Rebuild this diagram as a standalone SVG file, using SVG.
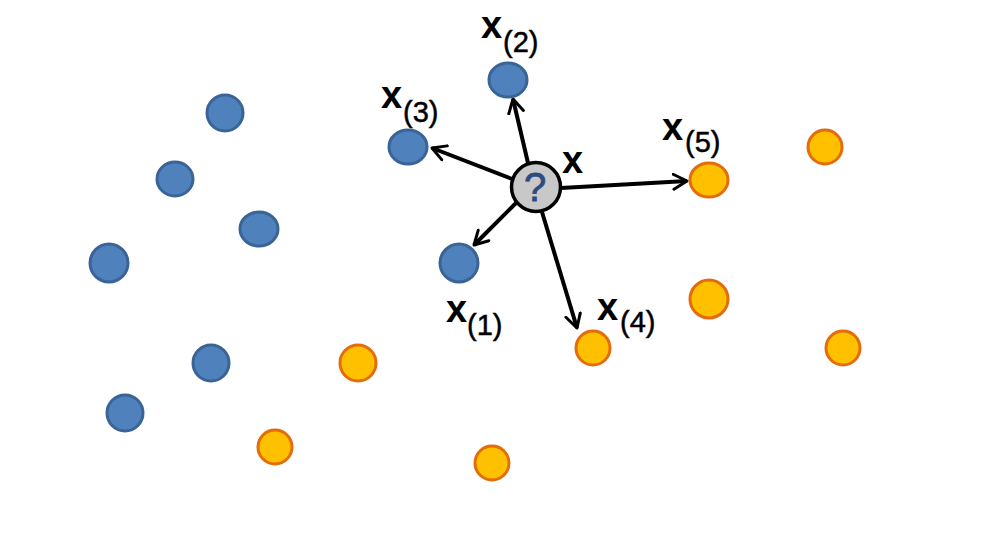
<svg xmlns="http://www.w3.org/2000/svg" width="989" height="547" viewBox="0 0 989 547">
<style>
.b{fill:#4F81BD;stroke:#3A6496;stroke-width:3}
.o{fill:#FFC000;stroke:#E46C0A;stroke-width:3}
.a{stroke:#000;stroke-width:4;fill:none;marker-end:url(#ah)}
.lx{font-family:"Liberation Sans",Arial,sans-serif;font-weight:bold;font-size:38px;fill:#000}
.ls{font-family:"Liberation Sans",Arial,sans-serif;font-size:29px;fill:#000;stroke:#000;stroke-width:0.5}
</style>
<defs>
<marker id="ah" viewBox="0 0 12 12" refX="10" refY="6" markerWidth="4.5" markerHeight="4.5" markerUnits="strokeWidth" orient="auto">
<path d="M1,1 L10,6 L1,11" fill="none" stroke="#000" stroke-width="2" stroke-linecap="round" stroke-linejoin="round"/>
</marker>
</defs>
<rect width="989" height="547" fill="#fff"/>
<g id="blue-points">
<ellipse id="b1" class="b" cx="225" cy="113" rx="18" ry="18"/>
<ellipse id="b2" class="b" cx="175" cy="179" rx="18" ry="17"/>
<ellipse id="b3" class="b" cx="259" cy="229" rx="19" ry="17"/>
<ellipse id="b4" class="b" cx="109" cy="263" rx="19" ry="19"/>
<ellipse id="b5" class="b" cx="211" cy="363" rx="18" ry="18"/>
<ellipse id="b6" class="b" cx="125" cy="413" rx="18" ry="18"/>
</g>
<g id="orange-points">
<circle id="o1" class="o" cx="358" cy="363" r="18"/>
<circle id="o2" class="o" cx="275" cy="447" r="17"/>
<circle id="o3" class="o" cx="492" cy="463" r="17"/>
<circle id="o4" class="o" cx="825" cy="147" r="17"/>
<circle id="o5" class="o" cx="709" cy="299" r="19"/>
<circle id="o6" class="o" cx="843" cy="348" r="17"/>
</g>
<g id="connectors">
<line class="a" x1="528" y1="163" x2="513" y2="99"/>
<line class="a" x1="512" y1="179" x2="432" y2="148"/>
<line class="a" x1="561" y1="188" x2="687" y2="181"/>
<line class="a" x1="516" y1="203" x2="474" y2="245"/>
<line class="a" x1="542" y1="212" x2="577" y2="328"/>
</g>
<g id="n2">
<ellipse class="b" cx="508" cy="80" rx="19" ry="17"/>
<text x="481" y="38" class="lx">x</text><text x="503" y="52" class="ls">(2)</text>
</g>
<g id="n3">
<ellipse class="b" cx="408" cy="147" rx="19" ry="17"/>
<text x="381" y="108" class="lx">x</text><text x="403" y="122" class="ls">(3)</text>
</g>
<g id="n1">
<ellipse class="b" cx="459" cy="263" rx="19" ry="19"/>
<text x="446" y="322" class="lx">x</text><text x="467" y="335" class="ls">(1)</text>
</g>
<g id="n4">
<circle class="o" cx="593" cy="348" r="17"/>
<text x="597" y="320" class="lx">x</text><text x="620" y="332" class="ls">(4)</text>
</g>
<g id="n5">
<ellipse class="o" cx="709" cy="180" rx="19" ry="17"/>
<text x="662" y="140" class="lx">x</text><text x="685" y="152" class="ls">(5)</text>
</g>
<g id="query">
<circle cx="536" cy="187" r="24.5" fill="#C8C8C8" stroke="#000" stroke-width="3.5"/>
<text x="535" y="201" text-anchor="middle" font-family="Liberation Sans,Arial,sans-serif" font-size="40" fill="#2B4C80" stroke="#2B4C80" stroke-width="0.8">?</text>
<text x="562" y="173" class="lx">x</text>
</g>
</svg>
